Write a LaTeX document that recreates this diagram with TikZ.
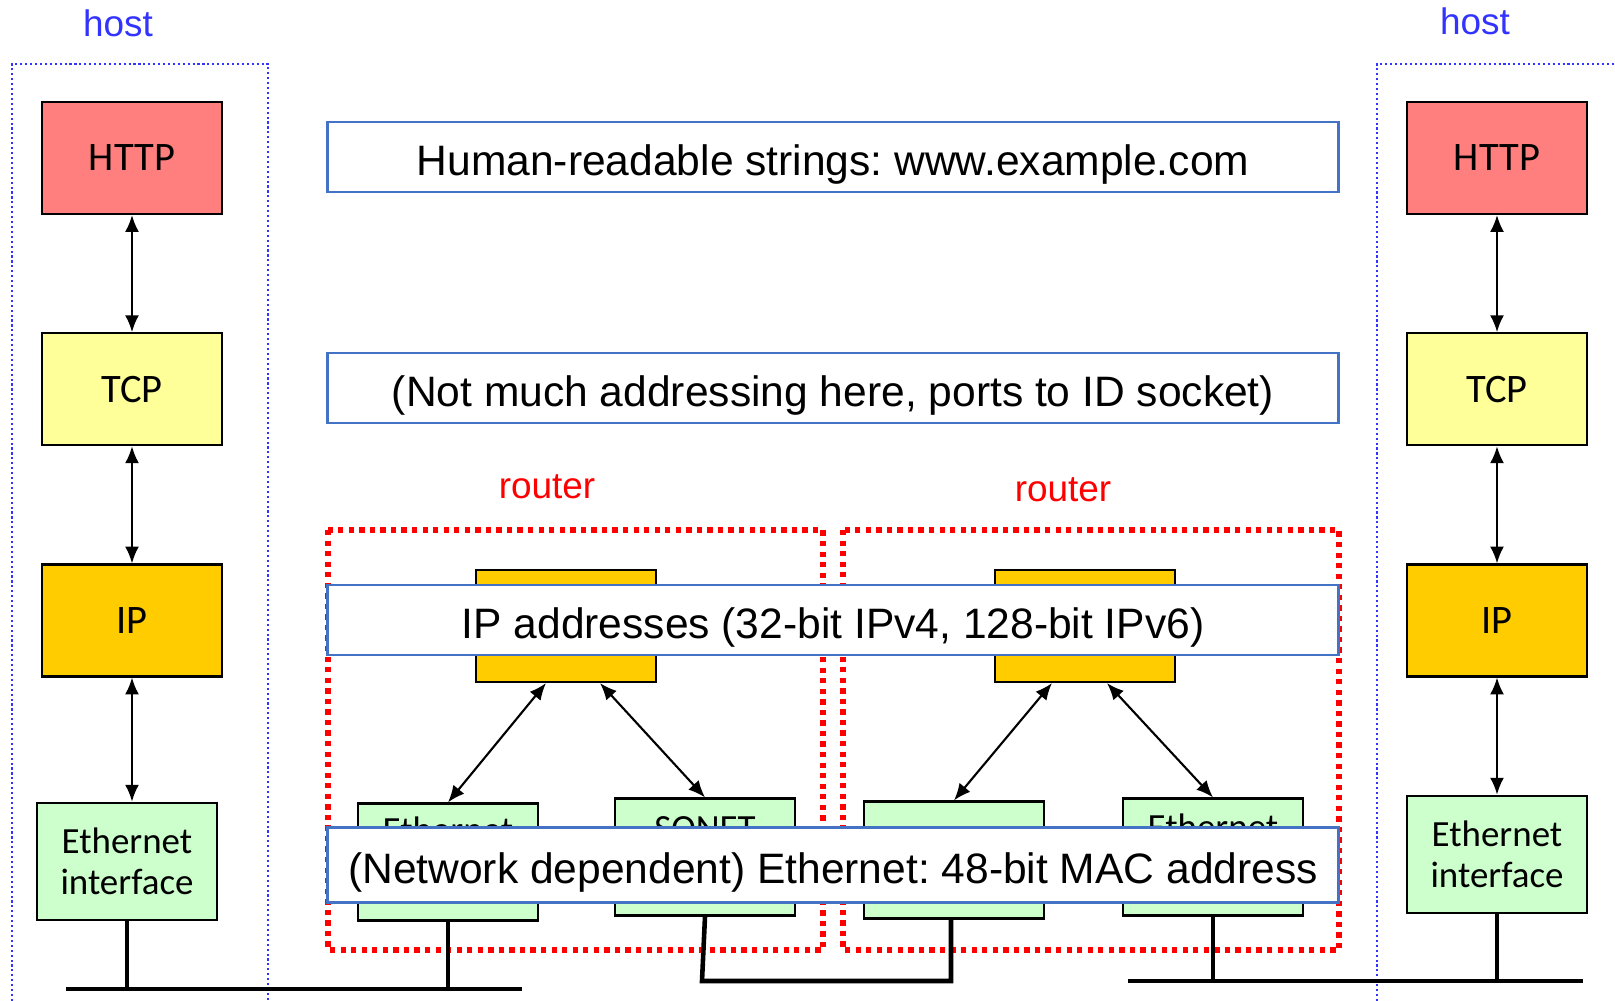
\documentclass[tikz,border=0pt]{standalone}
\usepackage{fontspec}
\setmainfont{Liberation Sans}
\newfontfamily\layerfont{Carlito}
\usepackage{xcolor}
\usetikzlibrary{shapes,arrows.meta,positioning}
\definecolor{httpred}{HTML}{FF7F7F}
\definecolor{tcpyellow}{HTML}{FFFF99}
\definecolor{ipgold}{HTML}{FFCC00}
\definecolor{ifgreen}{HTML}{CCFFCC}
\definecolor{hostblue}{HTML}{3333FF}
\definecolor{boxblue}{HTML}{4472C4}
\frenchspacing

\begin{document}
\begin{tikzpicture}[x=0.01cm, y=-0.01cm, >={Latex[length=4.8pt,width=4pt]},
  layer/.style={draw, rectangle, line width=0.6pt, minimum width=1.8cm, minimum height=1.12cm, font=\layerfont\fontsize{11.5}{13}\selectfont},
  ifbox/.style={layer, fill=ifgreen, minimum height=1.17cm, align=center, font=\layerfont\fontsize{10.5}{11.8}\selectfont},
  iftext/.style={inner sep=0pt, font=\layerfont\fontsize{10.5}{11.8}\selectfont},
  addr/.style={draw=boxblue, line width=0.8pt, fill=white, minimum width=10.11cm, minimum height=0.7cm, text height=10.6pt, text depth=0pt, font=\fontsize{12.1}{14}\selectfont},
  hostlabel/.style={text=hostblue, font=\fontsize{10.5}{12}\selectfont},
  routerlabel/.style={text=red, font=\fontsize{10.5}{12}\selectfont},
  hostframe/.style={draw=hostblue, line width=0.5pt, dash pattern=on 0.6pt off 0.8pt},
  routerframe/.style={draw=red, line width=1.6pt, dash pattern=on 1.5pt off 1.5pt},
  wire/.style={line width=1.3pt},
  link/.style={<->, line width=0.6pt}]
  \useasboundingbox (0,0) rectangle (1615,1001);

  % left host
  \node[hostlabel] (lhost) at (118,23) {host};
  \draw[hostframe] (12,1001) -- (12,64) -- (268,64) -- (268,1001);
  \node[layer, fill=httpred] (lhttp) at (132,158) {HTTP};
  \node[layer, fill=tcpyellow, below=1.17cm of lhttp] (ltcp) {TCP};
  \node[layer, fill=ipgold, below=1.17cm of ltcp] (lip) {IP};
  \node[ifbox, below=1.24cm of lip, xshift=-0.05cm] (leth) {Ethernet\\interface};
  \draw[link] (lhttp) -- (ltcp);
  \draw[link] (ltcp) -- (lip);
  \draw[link] (lip) -- (lip |- leth.north);

  % right host
  \node[hostlabel] (rhost) at (1475,21) {host};
  \draw[hostframe] (1377,1001) -- (1377,64) -- (1615,64);
  \node[layer, fill=httpred] (rhttp) at (1497,158) {HTTP};
  \node[layer, fill=tcpyellow, below=1.17cm of rhttp] (rtcp) {TCP};
  \node[layer, fill=ipgold, below=1.17cm of rtcp] (rip) {IP};
  \node[ifbox, below=1.17cm of rip] (reth) {Ethernet\\interface};
  \draw[link] (rhttp) -- (rtcp);
  \draw[link] (rtcp) -- (rip);
  \draw[link] (rip) -- (reth);

  % routers
  \node[routerlabel] (rlabone) at (547,487) {router};
  \node[routerlabel] (rlabtwo) at (1063,490) {router};
  \node[layer, fill=ipgold] (r1ip) at (566,626) {};
  \node[layer, fill=ipgold] (r2ip) at (1085,626) {};
  \node[ifbox] (r1eth) at (448,862) {};
  \node[iftext, below=0.14cm of r1eth.north] (r1ethtxt) {Ethernet};
  \node[ifbox] (r1son) at (705,857) {};
  \node[iftext, below=0.18cm of r1son.north] (r1sontxt) {SONET};
  \node[ifbox] (r2left) at (954,860) {};
  \node[ifbox] (r2eth) at (1213,857) {};
  \node[iftext, below=0.16cm of r2eth.north] (r2ethtxt) {Ethernet};
  \draw[routerframe] (328,530) rectangle (823,950);
  \draw[routerframe] (843,530) rectangle (1339,950);
  \draw[link] ([xshift=-0.2cm]r1ip.south) -- (r1eth.north);
  \draw[link] ([xshift=0.34cm]r1ip.south) -- (r1son.north);
  \draw[link] ([xshift=-0.33cm]r2ip.south) -- (r2left.north);
  \draw[link] ([xshift=0.22cm]r2ip.south) -- (r2eth.north);

  % wires
  \coordinate (busonew) at (66,989);
  \coordinate (busonee) at (522,989);
  \coordinate (bustwow) at (702,981);
  \coordinate (bustwoe) at (951,981);
  \coordinate (busthreew) at (1128,981);
  \coordinate (busthreee) at (1583,981);
  \draw[wire] (busonew) -- (busonee);
  \draw[wire] (leth.south) -- (leth.south |- busonew);
  \draw[wire] (r1eth.south) -- (r1eth.south |- busonew);
  \draw[wire] (r1son.south) -- (bustwow) -- (bustwoe) -- (bustwoe |- r2left.south);
  \draw[wire] (busthreew) -- (busthreee);
  \draw[wire] (r2eth.south) -- (r2eth.south |- busthreew);
  \draw[wire] (reth.south) -- (reth.south |- busthreew);

  % addressing
  \node[addr] (names) at (833,157) {Human-readable strings: www.example.com};
  \node[addr] (ports) at (833,388) {(Not much addressing here, ports to ID socket)};
  \node[addr] (ipaddr) at (833,620) {IP addresses (32-bit IPv4, 128-bit IPv6)};
  \node[addr, minimum height=0.75cm] (macaddr) at (833,865) {(Network dependent) Ethernet: 48-bit MAC address};
\end{tikzpicture}
\end{document}
